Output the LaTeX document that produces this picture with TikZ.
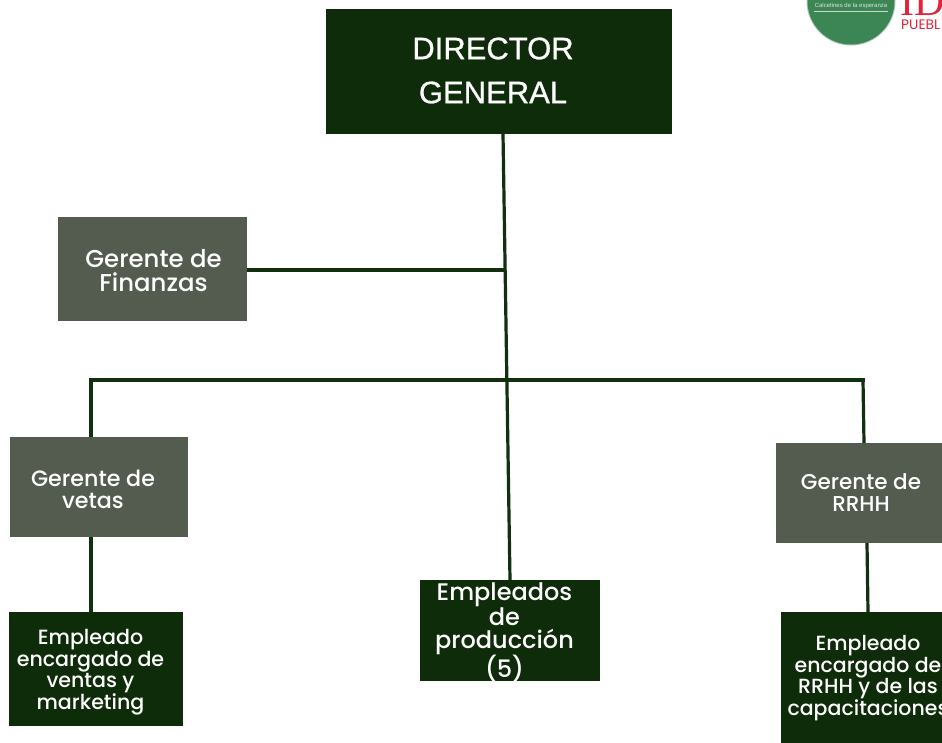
\documentclass[tikz,border=0pt]{standalone}
\usepackage{fontspec}
\setmainfont{Poppins Medium}
\newfontfamily\arialish[RawFeature={embolden=0.8}]{Liberation Sans}
\newfontfamily\arialthin{Liberation Sans}
\newfontfamily\poppinsreg{Poppins}
\newfontfamily\timesish{Liberation Serif}
\definecolor{darkbox}{HTML}{0E2C09}
\definecolor{greybox}{HTML}{535C4F}
\definecolor{linecol}{HTML}{10300F}
\definecolor{logogreen}{HTML}{3C8555}
\definecolor{logored}{HTML}{E0243C}
\tikzset{
 x=1pt,y=-1pt,
 box/.style={rectangle,inner sep=0pt,outer sep=0pt,text=white,align=center},
 dark/.style={box,fill=darkbox},
 grey/.style={box,fill=greybox},
 conn/.style={draw=linecol,line width=3.2pt},
 lab/.style={text=white,align=center,inner sep=0pt},
}
\begin{document}
\begin{tikzpicture}
\useasboundingbox (0,0) rectangle (942,742);
\begin{scope}
\clip (0,0) rectangle (942,742);
% logo
\fill[white!55!logogreen] (851,1) circle (44.5);
\fill[logogreen] (851,1) circle (43.5);
\node[lab,font=\arialthin\fontsize{6}{6}\selectfont,text=white!80!logogreen] (logotext) at (851,6) {Calcetines de la esperanza};
\draw[white!70!logogreen,line width=.4pt] (814,11.5) -- (888,11.5);
\node[anchor=base west,inner sep=0pt,text=logored,font=\timesish\fontsize{42}{42}\selectfont] (logoid) at (900,15) {ID};
\node[anchor=base west,inner sep=0pt,text=logored,font=\poppinsreg\fontsize{13.8}{14}\selectfont] (logopueb) at (901,29.5) {PUEBL};
% boxes
\node[dark,minimum width=346,minimum height=125] (dir) at (499,71.5) {};
\node[lab,font=\arialish\fontsize{31}{44}\selectfont] at (493,70.5) {DIRECTOR\\GENERAL\hspace{8pt}};
\node[grey,minimum width=189,minimum height=104] (fin) at (152,269) {};
\node[lab,font=\fontsize{24.4}{24}\selectfont] at (153.5,270.5) {Gerente de\\Finanzas};
\node[grey,minimum width=178,minimum height=100] (ven) at (99,487) {};
\node[lab,font=\fontsize{22.2}{21.5}\selectfont] at (93,489.5) {Gerente de\\vetas};
\node[grey,minimum width=170,minimum height=100] (rh) at (860.5,493) {};
\node[lab,font=\fontsize{21.5}{22}\selectfont] at (861,493) {Gerente de\\RRHH};
\node[dark,minimum width=174,minimum height=114] (emv) at (96,669) {};
\node[lab,font=\fontsize{20.6}{21.5}\selectfont] at (90.5,672) {Empleado\\encargado de\\ventas y\\marketing};
\node[dark,minimum width=180,minimum height=101] (pro) at (510,630.5) {};
\node[lab,font=\fontsize{24}{22.6}\selectfont] at (504.5,632.5) {Empleados\\de\\producción\\(5)};
\node[dark,minimum width=172,minimum height=135] (emr) at (867,679.5) {};
\node[lab,font=\fontsize{20.5}{21.5}\selectfont] at (868,678) {Empleado\\encargado de\\RRHH y de las\\capacitaciones};
% connectors
\coordinate (jf) at (505,270);
\coordinate (jl) at (91,380);
\coordinate (jr) at (863,380);
\coordinate (dt) at (503,134);
\coordinate (pt) at (510,580);
\draw[conn] (dt) -- (pt);
\draw[conn] (fin.east |- jf) -- (jf);
\draw[conn,line cap=rect] (jl) -- (jr);
\draw[conn] (jl) -- (91,436.5);
\draw[conn] (jr) -- (864,443);
\draw[conn] (91,537) -- (91,612);
\draw[conn] (867,543) -- (868,612);
\end{scope}
\end{tikzpicture}
\end{document}
